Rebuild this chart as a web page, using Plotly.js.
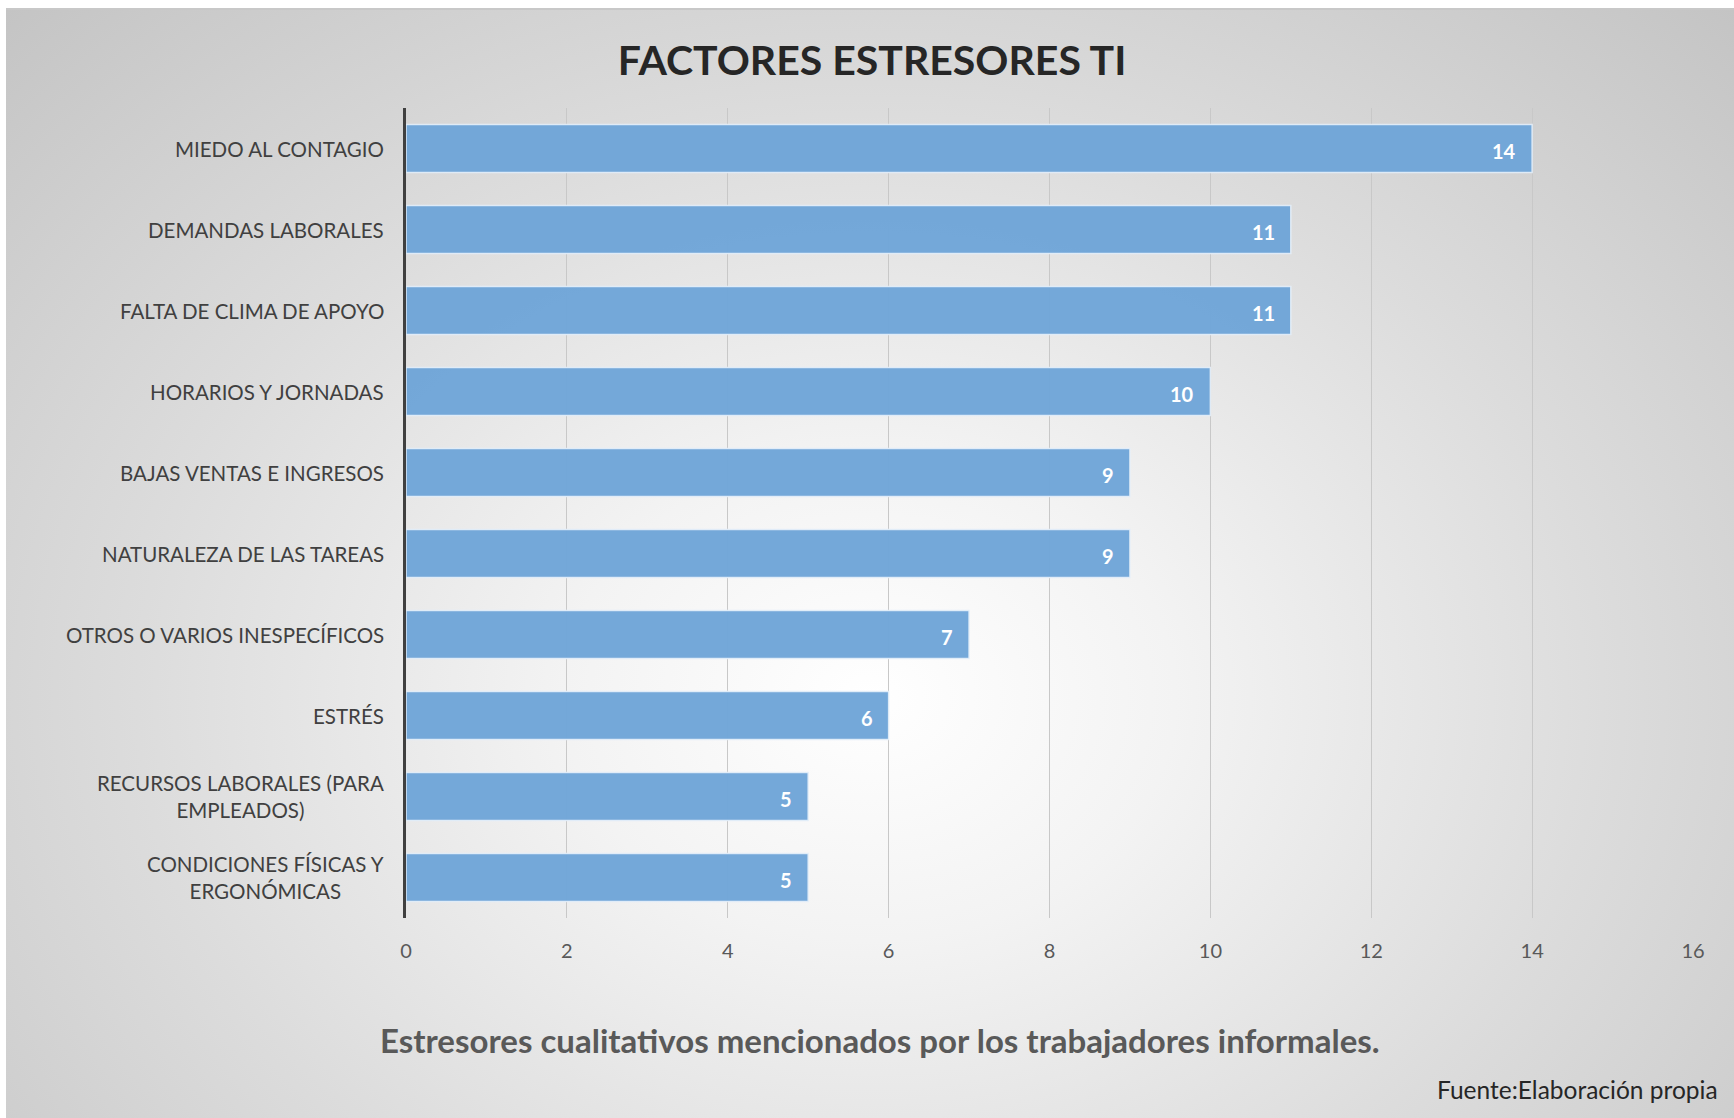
<!DOCTYPE html>
<html>
<head>
<meta charset="utf-8">
<script src="https://cdn.plot.ly/plotly-3.0.1.min.js"></script>
<style>
  html, body { margin:0; padding:0; width:1734px; height:1118px; background:#ffffff; overflow:hidden; }
  #bg { position:absolute; left:6px; top:8px; width:1728px; height:1110px;
        background: radial-gradient(ellipse farthest-corner at 50% 62%, #ffffff 0%, #f3f3f3 25%, #dcdcdc 60%, #c4c4c4 100%);
        border-top:2px solid #c8c8c8; box-sizing:border-box; }
  #chart { position:absolute; left:0; top:0; width:1734px; height:1118px; }
</style>
</head>
<body>
<div id="bg"></div>
<div id="chart"></div>
<script>
const categories = [
  "MIEDO AL CONTAGIO",
  "DEMANDAS LABORALES",
  "FALTA DE CLIMA DE APOYO",
  "HORARIOS Y JORNADAS",
  "BAJAS VENTAS E INGRESOS",
  "NATURALEZA DE LAS TAREAS",
  "OTROS O VARIOS INESPECÍFICOS",
  "ESTRÉS",
  "RECURSOS LABORALES (PARA<br>EMPLEADOS)",
  "CONDICIONES FÍSICAS Y<br>ERGONÓMICAS"
];
const values = [14, 11, 11, 10, 9, 9, 7, 6, 5, 5];
const xTicks = [0, 2, 4, 6, 8, 10, 12, 14, 16];

const FONT = "Lato, 'Open Sans', sans-serif";

const trace = {
  type: "bar",
  orientation: "h",
  x: values,
  y: categories,
  marker: { color: "rgba(111,165,216,0.97)", line: { color: "rgba(230,240,250,0.9)", width: 1.5 } },
  hoverinfo: "x+y",
  width: 0.59
};

const annotations = [];
categories.forEach((c, i) => {
  annotations.push({
    x: 0, xref: "x", y: c, yref: "y",
    text: c, showarrow: false, xanchor: "right", xshift: -20, align: "center",
    font: { family: FONT, size: 20.5, color: "#404040" }
  });
  annotations.push({
    x: values[i], xref: "x", y: c, yref: "y",
    text: "<b>" + values[i] + "</b>", showarrow: false, xanchor: "right", xshift: -14, yshift: -2,
    font: { family: FONT, size: 20, color: "#ffffff" }
  });
});
annotations.push({
  x: 0.5, xref: "paper", y: 0, yref: "paper", yanchor: "middle",
  text: "<b>Estresores cualitativos mencionados por los trabajadores informales.</b>",
  showarrow: false, font: { family: FONT, size: 33, color: "#595959" }
});
annotations.push({
  text: "Fuente:Elaboración propia", showarrow: false,
  xref: "paper", yref: "paper", x: 1, y: 0, xanchor: "right", yanchor: "middle",
  font: { family: FONT, size: 24.5, color: "#262626" }
});

const layout = {
  width: 1734, height: 1118,
  paper_bgcolor: "rgba(0,0,0,0)",
  plot_bgcolor: "rgba(0,0,0,0)",
  margin: { l: 406, r: 41, t: 108, b: 200, pad: 0 },
  showlegend: false,
  title: {
    text: "<b>FACTORES ESTRESORES TI</b>",
    font: { family: FONT, size: 41, color: "#262626" },
    x: 872 / 1734, xanchor: "center", xref: "container",
    y: 1 - 61 / 1118, yanchor: "middle", yref: "container"
  },
  xaxis: {
    range: [0, 16], tickvals: xTicks, ticktext: xTicks.map(String),
    showgrid: true, gridcolor: "#c8c8c8", gridwidth: 1, zeroline: false,
    showline: false, ticks: "", ticklabelstandoff: 19,
    tickfont: { family: FONT, size: 20, color: "#595959" },
    fixedrange: true
  },
  yaxis: {
    type: "category", categoryorder: "array", categoryarray: categories,
    autorange: "reversed", showticklabels: false, ticks: "",
    showline: true, linecolor: "#404040", linewidth: 3, showgrid: false, zeroline: false,
    fixedrange: true
  },
  annotations: annotations
};

// convert subtitle & source positions from pixels to paper fraction
const plotH = 1118 - 108 - 200;
function pyToPaper(py) { return (1118 - 200 - py) / plotH; }
function pxToPaper(px) { return (px - 406) / (1734 - 406 - 41); }
annotations[annotations.length - 2].y = pyToPaper(1040);
annotations[annotations.length - 2].x = pxToPaper(880);
annotations[annotations.length - 1].y = pyToPaper(1089);
annotations[annotations.length - 1].x = pxToPaper(1720);

Plotly.newPlot("chart", [trace], layout, { displayModeBar: false, staticPlot: true });
</script>
</body>
</html>
